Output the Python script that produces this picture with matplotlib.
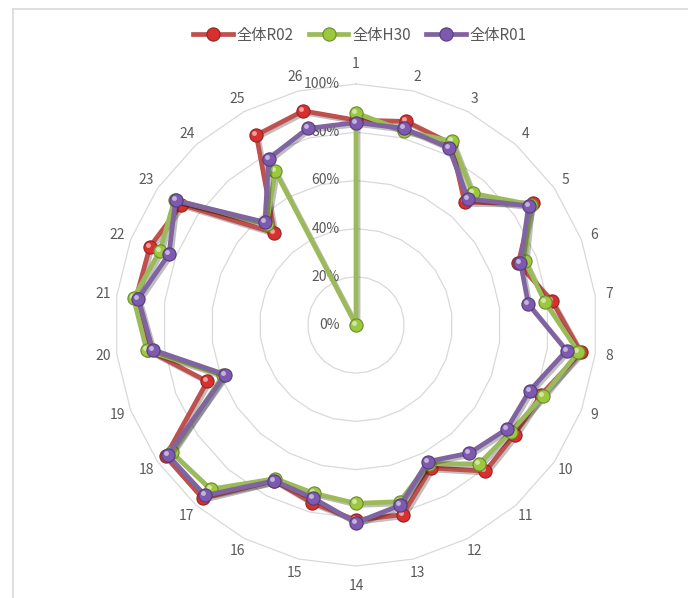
import matplotlib
matplotlib.use("Agg")
import matplotlib.pyplot as plt
import matplotlib.patheffects as pe
import numpy as np
from matplotlib.lines import Line2D

# Data (percent), categories 1..26
categories = [str(i) for i in range(1, 27)]
r02 = [85, 87, 85, 68, 89, 72, 82, 94, 82, 80, 81, 67, 81,
       81, 76, 73, 96, 96, 66, 87, 92, 91.5, 88, 51, 89, 91.5]
h30 = [88, 83, 86, 73, 88, 75, 79, 93, 83, 78, 77, 65, 75.5,
       74, 72, 72, 91, 93, 59, 87.5, 93, 87, 91.5, 56, 72, 0]
r01 = [84, 84, 83, 70, 87, 73, 72, 88, 77, 76, 71, 64, 77,
       82, 74, 73, 94.5, 95, 58, 85, 91, 83, 91, 57, 78, 84]
series_names = ["全体R02", "全体H30", "全体R01"]
radial_ticks = [0, 20, 40, 60, 80, 100]

plt.rcParams["font.family"] = ["Noto Sans CJK JP", "DejaVu Sans"]

W, H = 688, 598
cx, cy, R = 356, 325, 241  # pixel centre and radius of 100%

fig = plt.figure(figsize=(W / 100, H / 100), dpi=100)
ax = fig.add_axes([0, 0, 1, 1])
ax.set_xlim(-cx / R, (W - cx) / R)
ax.set_ylim(-(H - cy) / R, cy / R)
ax.axis("off")

n = len(categories)
theta = np.arange(n) * 2 * np.pi / n  # clockwise from top


def to_xy(vals):
    r = np.asarray(vals, dtype=float) / 100.0
    return r * np.sin(theta), r * np.cos(theta)


# polygon grid
grid_color = "#D9D9D9"
for t in radial_ticks[1:]:
    gx, gy = to_xy([t] * n)
    ax.plot(np.append(gx, gx[0]), np.append(gy, gy[0]),
            color=grid_color, lw=0.9, zorder=1)

# radial labels
for t in radial_ticks:
    ax.text(-16 / R, t / 100.0, f"{t}%", ha="right", va="center",
            fontsize=10, color="#595959", zorder=2)

# category labels
for i, lab in enumerate(categories):
    rr = 255 / R
    if abs(np.cos(theta[i])) > 0.99:
        rr = 261 / R
    ax.text(rr * np.sin(theta[i]), rr * np.cos(theta[i]), lab,
            ha="center", va="center", fontsize=10, color="#595959")

line_colors = ["#C0504D", "#9BBB59", "#8064A2"]
face_colors = ["#D8302F", "#9CC83E", "#7D5AB0"]
edge_colors = ["#8E2624", "#6B8A2E", "#553C78"]

handles = []
for k, (vals, name) in enumerate(zip([r02, h30, r01], series_names)):
    x, y = to_xy(vals)
    xs = np.append(x, x[0])
    ys = np.append(y, y[0])
    z = 3 + k * 2
    ax.plot(xs, ys, color=line_colors[k], lw=3.4, solid_joinstyle="round",
            zorder=z,
            path_effects=[pe.SimpleLineShadow(offset=(1.5, -1.5), alpha=0.25),
                          pe.Normal()])
    ax.plot(x, y, ls="none", marker="o", ms=9.5, mfc=face_colors[k],
            mec=edge_colors[k], mew=0.8, zorder=z + 0.5)
    # glossy highlight
    ax.plot(x - 2 / R, y + 2 / R, ls="none", marker="o", ms=3.5,
            mfc="white", mec="none", alpha=0.55, zorder=z + 0.6)
    handles.append(Line2D([], [], color=line_colors[k], lw=3.4, marker="o",
                          ms=9.5, mfc=face_colors[k], mec=edge_colors[k],
                          mew=0.8, label=name))

fig.legend(handles=handles, loc="center", bbox_to_anchor=(0.523, 0.941),
           ncol=3, frameon=False, fontsize=11, handlelength=2.6,
           handletextpad=0.25, columnspacing=1.0, labelcolor="#595959")

# chart area border (top and left edges visible)
fig.add_artist(Line2D([13 / W, 1], [1 - 8.5 / H, 1 - 8.5 / H],
                      color=grid_color, lw=1.2))
fig.add_artist(Line2D([13 / W, 13 / W], [0, 1 - 8.5 / H],
                      color=grid_color, lw=1.2))

fig.savefig("out.png", dpi=100)
